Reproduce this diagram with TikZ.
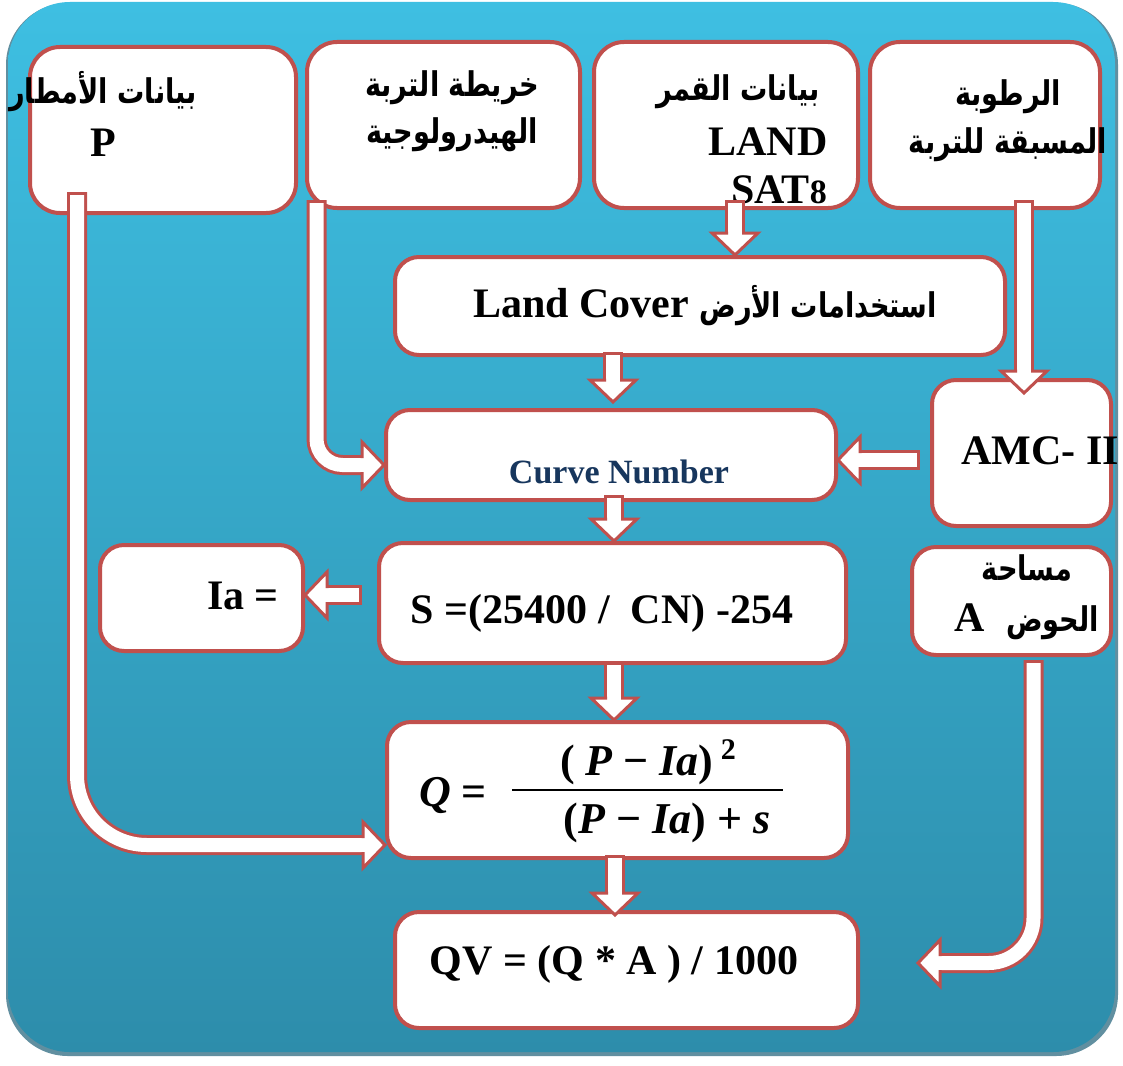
\documentclass[tikz,border=0pt]{standalone}
\usepackage{fontspec}
\setmainfont{Liberation Serif}
\newfontfamily\arabicfont[Script=Arabic,FakeStretch=0.8]{DejaVu Sans}
\TeXXeTstate=1
\usetikzlibrary{calc}
\definecolor{boxred}{RGB}{192,80,77}
\definecolor{bgtop}{RGB}{62,191,226}
\definecolor{bgbot}{RGB}{45,141,171}
\definecolor{rim}{RGB}{30,95,120}
\definecolor{cnnavy}{RGB}{23,54,93}
\newcommand\ar[1]{{\arabicfont\bfseries\fontsize{34}{40}\selectfont\beginR #1\endR}}
\newcommand\lat{\fontsize{42}{50}\selectfont\bfseries}
\newcommand\bi[1]{{\bfseries\itshape #1}}
\newcommand\blockarrow[3]{%
  \draw[shaft] (#1) -- ($(#2)!22pt!(#1)$);
  \pic[rotate=#3] at ($(#2)!22pt!(#1)$) {bhead};}
\tikzset{
  box/.style={draw=boxred, line width=4pt, fill=white, rounded corners=24pt, inner sep=0pt},
  txt/.style={inner sep=0pt, font=\lat},
  mtxt/.style={inner sep=0pt, font=\fontsize{44}{50}\selectfont\bfseries},
  shaft/.style={draw=boxred, line width=3pt, double=white, double distance=14pt, line cap=rect},
  bhead/.pic={
    \fill[white] (0,-23) -- (22,0) -- (0,23) -- cycle;
    \draw[boxred, line width=3pt, line join=miter] (0,-7) -- (0,-23) -- (22,0) -- (0,23) -- (0,7);
  }
}
\begin{document}
\begin{tikzpicture}[x=1pt,y=-1pt]
\useasboundingbox (0,0) rectangle (1123,1065);
\fill[white] (0,0) rectangle (1123,1065);
\fill[rim!70, rounded corners=62pt] (6,3) rectangle (1118,1056);
\shade[top color=bgtop, bottom color=bgbot, rounded corners=62pt] (8,2) rectangle (1115,1052);

% boxes
\node[box, minimum width=266pt, minimum height=166pt, rounded corners=30pt] (rain) at (163,130) {};
\node[box, minimum width=273pt, minimum height=166pt, rounded corners=30pt] (soil) at (443.5,125) {};
\node[box, minimum width=264pt, minimum height=166pt, rounded corners=30pt] (sat) at (726,125) {};
\node[box, minimum width=230pt, minimum height=166pt, rounded corners=30pt] (moist) at (985,125) {};
\node[box, minimum width=610pt, minimum height=98pt] (lc) at (700,306) {};
\node[box, minimum width=450pt, minimum height=90pt] (cn) at (611,455) {};
\node[box, minimum width=179pt, minimum height=146pt] (amc) at (1021.5,453) {};
\node[box, minimum width=203pt, minimum height=106pt] (ia) at (201.5,598) {};
\node[box, minimum width=467pt, minimum height=120pt] (s) at (612.5,603) {};
\node[box, minimum width=199pt, minimum height=108pt] (area) at (1011.5,601) {};
\node[box, minimum width=461pt, minimum height=136pt] (q) at (617.5,790) {};
\node[box, minimum width=463pt, minimum height=116pt] (qv) at (626.5,970) {};

% texts
\node[txt] (rainA) at (103,92) {\ar{بيانات الأمطار}};
\node[txt] (rainP) at (103,143) {P};
\node[txt] (soilA) at (452,88) {\ar{خريطة التربة}};
\node[txt] (soilB) at (452,135) {\ar{الهيدرولوجية}};
\node[txt] (satA) at (738,92) {\ar{بيانات القمر}};
\node[txt] (satB) at (768,142) {LAND};
\node[txt, anchor=base] (satC) at (779,203) {SAT{\fontsize{34}{40}\selectfont 8}};
\node[txt] (moistA) at (1008,97) {\ar{الرطوبة}};
\node[txt] (moistB) at (1008,145) {\ar{المسبقة للتربة}};
\node[txt] (lcT) at (705,306) {Land Cover \ar{استخدامات الأرض}};
\node[txt, font=\fontsize{34}{40}\selectfont\bfseries, text=cnnavy] (cnT) at (619,472) {Curve Number};
\node[txt] (amcT) at (1040,451) {AMC- II};
\node[txt] (iaT) at (243,596) {Ia =};
\node[txt] (sT) at (602,613) {S =(25400 /\ \ CN) -254};
\node[txt] (areaA) at (1027,568) {\ar{مساحة}};
\node[txt] (areaB) at (1027,622) {A\ \ \ar{الحوض}};
% formula
\node[mtxt] (qL) at (453,795) {\bi{Q} =};
\node[mtxt] (qN) at (648,762) {( \bi{P} − \bi{Ia})\,\raisebox{16pt}{\fontsize{30}{32}\selectfont 2}};
\draw[line width=2.5pt] (512,790) coordinate (fb1) -- (783,790) coordinate (fb2);
\node[mtxt] (qD) at (667,823) {(\bi{P} − \bi{Ia}) + \bi{s}};
\node[txt] (qvT) at (614,964) {QV = (Q * A ) / 1000};

% arrow coordinates
\coordinate (a1s) at ([xshift=9pt]sat.south);
\coordinate (a1t) at (a1s |- lc.north);
\coordinate (a2s) at ([xshift=-87pt,yshift=-5pt]lc.south);
\coordinate (a2t) at ($(a2s |- cn.north)+(0,-6)$);
\coordinate (a3s) at ([xshift=3pt,yshift=-3pt]cn.south);
\coordinate (a3t) at (a3s |- s.north);
\coordinate (a4s) at ([xshift=1.5pt,yshift=-7pt]s.south);
\coordinate (a4t) at (a4s |- q.north);
\coordinate (a5s) at ([xshift=-2.5pt,yshift=-5pt]q.south);
\coordinate (a5t) at ($(a5s |- qv.north)+(0,5)$);
\coordinate (a6s) at ([xshift=-25pt,yshift=8pt]s.west);
\coordinate (a6t) at (a6s -| ia.east);
\coordinate (a7s) at ([xshift=-20pt,yshift=-7pt]amc.west);
\coordinate (a7t) at (a7s -| cn.east);
\coordinate (a8s) at ([xshift=39pt]moist.south);
\coordinate (a8t) at ($(a8s |- amc.north)+(0,15)$);
\coordinate (a9s) at ([xshift=-86pt,yshift=13pt]rain.south);
\coordinate (a9t) at ([yshift=-55pt]q.west);
\coordinate (a9b) at ($(a9t)+(-22,0)$);
\coordinate (a10s) at ([xshift=-127pt]soil.south);
\coordinate (a10t) at ([yshift=-10pt]cn.west);
\coordinate (a10b) at ($(a10t)+(-22,0)$);
\coordinate (a11s) at ([xshift=22pt,yshift=-13pt]area.south);
\coordinate (a11t) at ([xshift=58pt,yshift=7pt]qv.east);
\coordinate (a11b) at ($(a11t)+(22,0)$);

% straight arrows
\blockarrow{a1s}{a1t}{-90}
\blockarrow{a2s}{a2t}{-90}
\blockarrow{a3s}{a3t}{-90}
\blockarrow{a4s}{a4t}{-90}
\blockarrow{a5s}{a5t}{-90}
\blockarrow{a6s}{a6t}{180}
\blockarrow{a7s}{a7t}{180}
\blockarrow{a8s}{a8t}{-90}

% bent arrows
\draw[shaft, rounded corners=70pt] (a9s) |- (a9b);
\pic at (a9b) {bhead};
\draw[shaft, rounded corners=26pt] (a10s) |- (a10b);
\pic at (a10b) {bhead};
\draw[shaft, rounded corners=45pt] (a11s) |- (a11b);
\pic[rotate=180] at (a11b) {bhead};
\end{tikzpicture}
\end{document}
